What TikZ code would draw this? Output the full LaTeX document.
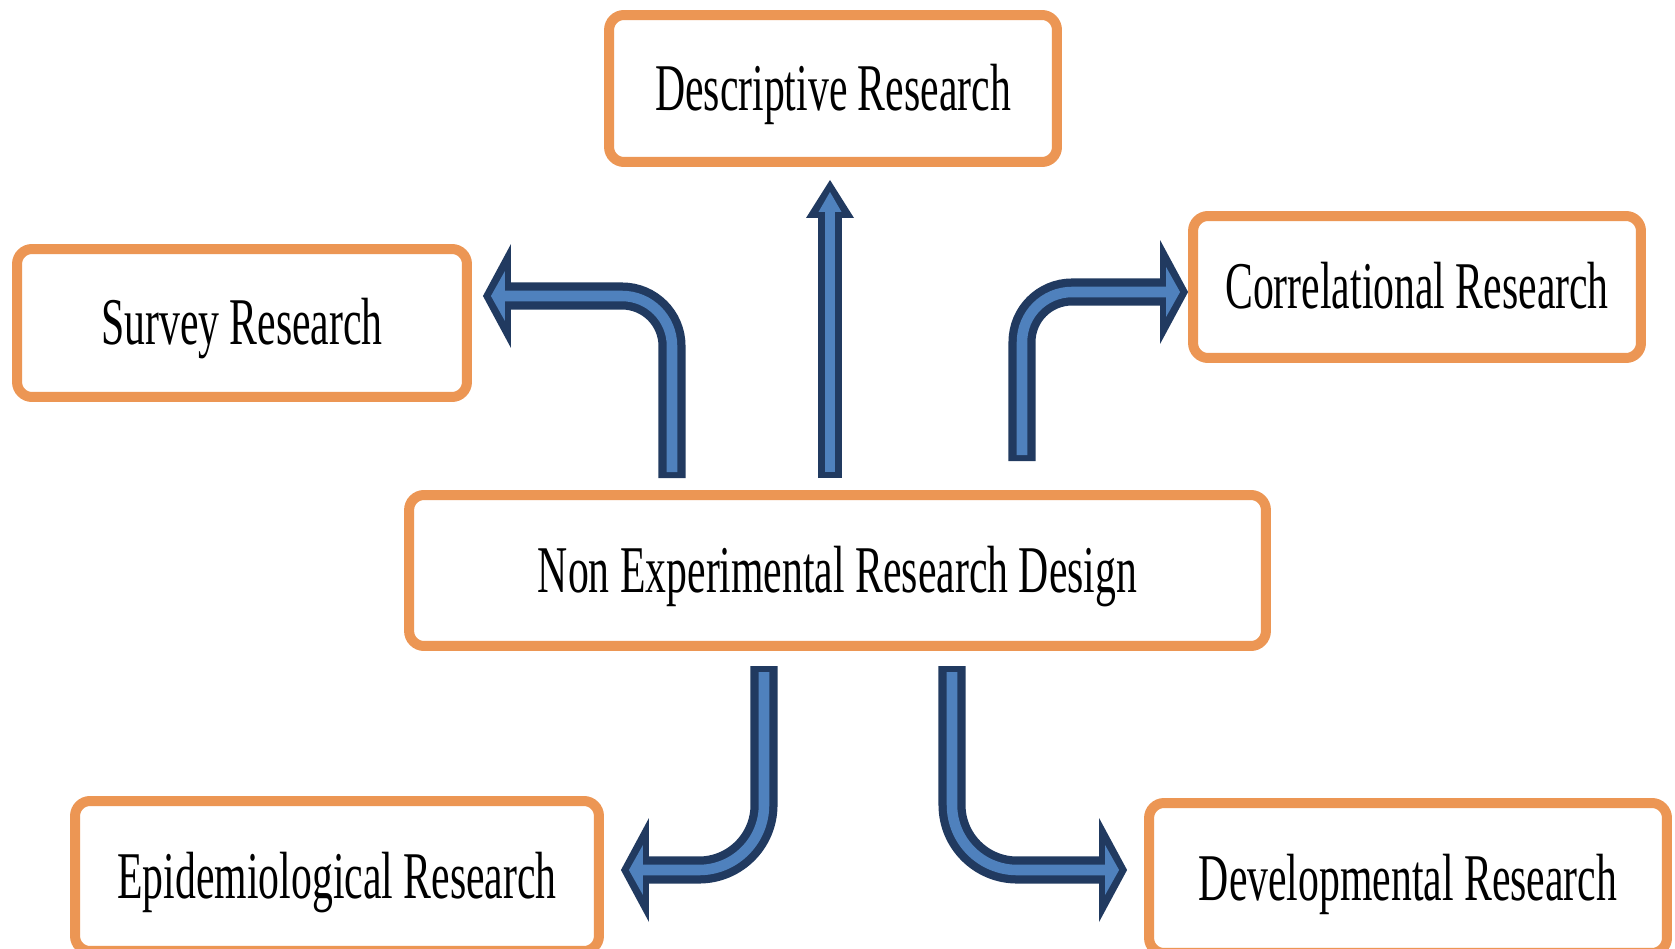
\documentclass[tikz,border=0pt]{standalone}
\usepackage{fontspec}
\setmainfont{Liberation Serif}
\usepackage{graphicx}
\usepackage{tikz}
\usetikzlibrary{arrows.meta,calc}

\definecolor{boxorange}{RGB}{236,150,84}
\definecolor{arrowdark}{RGB}{33,58,96}
\definecolor{arrowlight}{RGB}{79,129,189}

\newcommand{\narrowtext}[1]{\scalebox{0.625}[1]{#1}}

\begin{document}
\begin{tikzpicture}[x=0.02cm,y=0.02cm,
    font=\fontsize{38}{40}\selectfont,
    researchbox/.style={draw=boxorange,
        line width=5.7pt,
        rounded corners=0.3cm,
        fill=white,
        inner sep=0pt,
        text height=0.88cm,
        text depth=0pt,
        align=center},
    sidearrow/.style={arrowdark,
        line width=15.4pt,
        -{Triangle[length=0.56cm,width=2.08cm,line width=0pt]}},
    sidearrowin/.style={arrowlight,
        line width=6pt,
        shorten <=0.12cm,
        -{Triangle[length=0.28cm,width=1.0cm,line width=0pt]}},
    uparrow/.style={arrowdark,
        line width=14pt,
        -{Triangle[length=0.76cm,width=0.96cm,line width=0pt]}},
    uparrowin/.style={arrowlight,
        line width=6pt,
        shorten <=0.12cm,
        -{Triangle[length=0.4cm,width=0.46cm,line width=0pt]}}
]

\useasboundingbox (0,0) rectangle (1675,948);

\node[researchbox,
    minimum width=17.14cm,
    minimum height=3.02cm
] (design) at (837.5,377.5) {\narrowtext{Non Experimental Research Design}};

\node[researchbox,
    minimum width=8.96cm,
    minimum height=2.94cm
] (descriptive) at (833,859.5) {\narrowtext{Descriptive Research}};

\node[researchbox,
    minimum width=9cm,
    minimum height=2.96cm
] (survey) at (242,625) {\narrowtext{Survey Research}};

\node[researchbox,
    minimum width=8.96cm,
    minimum height=2.84cm
] (correlational) at (1417,661) {\narrowtext{Correlational Research}};

\node[researchbox,
    minimum width=10.48cm,
    minimum height=3cm
] (epidemiological) at (337,72) {\narrowtext{Epidemiological Research}};

\node[researchbox,
    minimum width=10.36cm,
    minimum height=3cm
] (developmental) at (1408,70) {\narrowtext{Developmental Research}};

\coordinate (up) at (830,470);
\coordinate (upleft) at (672,470);
\coordinate (upright) at (1022,487);
\coordinate (downleft) at (764,282);
\coordinate (downright) at (952,282);

\draw[uparrow, shorten >=0.26cm] (up) -- (up |- descriptive.south);
\draw[uparrowin, shorten >=0.5cm] (up) -- (up |- descriptive.south);

\draw[sidearrow, rounded corners=1cm, shorten >=0.22cm] (upleft) |- ($(survey.east)+(0,27)$);
\draw[sidearrowin, rounded corners=1cm, shorten >=0.38cm] (upleft) |- ($(survey.east)+(0,27)$);

\draw[sidearrow, rounded corners=1cm] (upright) |- ($(correlational.west)+(0,-5)$);
\draw[sidearrowin, rounded corners=1cm, shorten >=0.16cm] (upright) |- ($(correlational.west)+(0,-5)$);

\draw[sidearrow, rounded corners=1.3cm, shorten >=0.34cm] (downleft) |- ($(epidemiological.east)+(0,6)$);
\draw[sidearrowin, rounded corners=1.3cm, shorten >=0.5cm] (downleft) |- ($(epidemiological.east)+(0,6)$);

\draw[sidearrow, rounded corners=1.3cm, shorten >=0.34cm] (downright) |- ($(developmental.west)+(0,8)$);
\draw[sidearrowin, rounded corners=1.3cm, shorten >=0.5cm] (downright) |- ($(developmental.west)+(0,8)$);

\end{tikzpicture}
\end{document}
